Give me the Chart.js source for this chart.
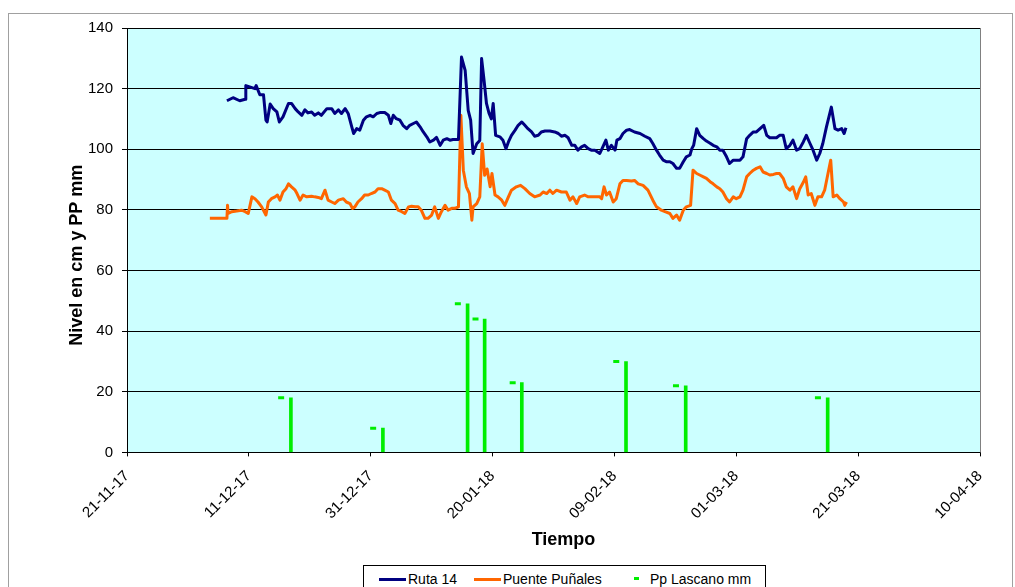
<!DOCTYPE html>
<html>
<head>
<meta charset="utf-8">
<script src="https://cdn.jsdelivr.net/npm/chart.js@4.4.1/dist/chart.umd.min.js"></script>
<style>
  body { margin: 0; background: #fff; }
  #wrap { position: relative; width: 1015px; height: 587px; overflow: hidden; font-family: 'Liberation Sans', Arial, sans-serif; }
  #frame { position: absolute; left: 8px; top: 13px; width: 1003px; height: 600px; border: 1px solid #a0a0a0; }
  #chart { position: absolute; left: 0; top: 0; }
  #legend { position: absolute; left: 363px; top: 565px; width: 401px; height: 30px; border: 1px solid #000; background: #fff; }
  #legend .swatch { position: absolute; top: 12px; height: 3px; width: 27px; }
  #legend .label { position: absolute; top: 5px; font-size: 14px; line-height: 16px; color: #000; white-space: nowrap; }
</style>
</head>
<body>
<div id="wrap">
  <div id="frame"></div>
  <canvas id="chart" width="1015" height="587"></canvas>
  <div id="legend">
    <div class="swatch" style="left:15px;background:#000080"></div>
    <div class="label" style="left:44px">Ruta 14</div>
    <div class="swatch" style="left:110px;background:#ff6600"></div>
    <div class="label" style="left:139px">Puente Puñales</div>
    <div class="swatch" style="left:270px;width:5px;top:11px;background:#00ee00"></div>
    <div class="label" style="left:286px">Pp Lascano mm</div>
  </div>
</div>
<script>
// days counted from 21-11-2017
const startDate = Date.UTC(2017, 10, 21);

const rutaDay = [16.4,17.4,18.5,19.4,19.5,21.0,21.2,21.8,22.4,22.8,23.0,23.5,24.0,24.6,25.0,25.6,26.5,27.0,27.6,28.1,
  28.7,29.2,29.7,30.3,30.8,31.4,31.9,32.8,33.6,34.1,34.7,35.2,35.8,36.3,36.9,37.2,37.7,38.2,38.8,39.3,
  39.9,40.4,41.0,41.5,42.3,42.9,43.3,43.7,44.2,44.8,45.3,45.9,46.4,47.0,47.5,48.1,48.6,49.2,49.7,50.3,
  50.8,51.4,51.9,52.5,53.0,53.5,54.4,54.9,55.5,56.0,56.4,56.8,57.4,57.9,58.2,58.6,59.0,59.4,59.8,60.1,
  60.5,61.2,61.7,62.2,62.6,63.1,63.7,64.2,64.8,65.3,65.8,66.4,66.9,67.5,68.0,68.6,69.4,70.2,70.8,71.3,
  71.9,72.4,73.0,73.5,74.0,74.6,75.1,75.7,76.2,76.8,77.6,78.1,78.6,79.0,79.5,80.1,80.4,80.9,81.4,82.0,
  82.5,83.3,84.2,85.0,85.8,86.3,86.9,87.4,88.0,88.5,89.1,89.6,90.2,90.7,91.3,91.8,92.4,92.7,93.0,93.5,
  94.0,94.6,95.1,95.7,96.2,96.8,97.3,97.8,98.4,98.9,99.5,100.0,100.6,101.1,101.7,102.2,102.8,103.3,103.9,104.5,
  105.0,105.5,106.1,106.6,107.1,107.7,108.2,108.8,109.3,109.9,110.4,111.0,111.5,112.1,112.6,113.2,113.7,114.2,114.8,115.6,
  116.2,116.7,117.3,117.7,118.0];
const rutaLevel = [116,117,116,116.5,121,120,121,118,118,109.6,109,114.9,113.4,112.3,109,110.7,115.1,115.1,113.4,112.3,
  111.2,113,112,112.3,111.2,112,111.2,113.4,113.4,111.8,113,111.8,113.4,111.8,107.3,105.2,106.8,106.3,109.6,110.7,
  111.2,110.7,111.8,112.1,112.1,111.2,108.5,111.2,110.1,109.6,107.9,106.8,107.9,108.5,109,107.4,105.8,104.1,102.4,103,
  103.9,101.3,103,103.5,103,103.2,103.2,130.4,126,112.8,109.6,98.6,101.8,102.9,129.9,122.8,115.1,112,110,115.1,
  104.6,104.1,103,100.2,102.4,104.6,106.3,107.9,109,107.9,106.8,105.7,104.3,104.6,105.7,106,106,105.7,105.2,104.3,
  104.6,103.8,101.3,101.3,99.7,100.8,101.3,100.2,99.7,99.7,98.6,100.8,103,99.7,101.3,99.7,103,103.5,105.2,106.3,
  106.5,105.7,105.2,104.3,103.5,101.9,99.7,98.1,96.4,95.9,95.9,95.3,93.7,93.7,95.9,97.5,98.1,100.2,101.3,106.8,
  104.6,103.5,102.7,102,101.3,100.8,99.7,99.7,97.5,95.3,96.4,96.4,96.4,97.5,103.5,104.6,105.7,105.7,106.8,107.9,
  104.6,103.8,103.8,103.8,104.6,104.6,100.2,101.3,103,99.7,100.2,102.4,104.6,101.9,99.7,96.4,98.6,101.9,107.4,113.9,
  106.8,106.3,106.8,105.2,107.1];

const puenteDay = [13.6,16.4,16.5,16.6,17.2,18.0,18.8,19.4,19.9,20.5,21.0,21.5,22.1,22.8,23.2,23.7,24.3,24.7,25.1,25.6,
  26.1,26.5,27.0,27.6,27.9,28.4,28.9,29.5,30.3,30.8,31.4,31.9,32.5,33.0,33.6,34.1,34.7,35.5,36.0,36.6,
  37.0,37.4,37.9,38.5,39.0,39.6,40.1,40.7,41.2,41.8,42.3,42.9,43.4,44.0,44.5,45.1,45.6,46.2,46.7,47.3,
  47.8,48.3,48.9,49.4,50.0,50.5,51.1,51.6,52.2,52.7,53.3,53.8,54.4,54.8,55.2,55.7,56.2,56.6,56.8,57.4,
  57.9,58.3,58.7,59.1,59.6,59.9,60.4,60.9,61.5,62.0,62.6,63.1,63.9,64.6,65.3,66.1,66.9,67.8,68.3,68.9,
  69.4,69.9,70.5,71.3,72.1,72.7,73.2,73.8,74.3,75.1,75.7,76.5,77.6,77.9,78.3,78.7,79.2,79.8,80.3,80.9,
  81.4,82.0,82.8,83.3,83.9,84.7,85.5,86.3,86.9,87.7,88.3,89.1,89.6,90.2,90.7,91.3,91.8,92.5,92.9,93.5,
  94.0,94.6,95.1,95.7,96.2,96.8,97.3,97.8,98.4,98.9,99.5,100.0,100.6,101.1,101.7,102.2,102.8,103.3,103.9,104.4,
  105.0,105.5,106.1,106.6,107.1,107.7,108.2,108.8,109.3,109.9,110.4,111.0,111.4,111.8,112.3,112.9,113.4,114.0,114.5,115.1,
  115.5,115.9,116.5,117.0,117.6,117.8,118.1];
const puenteLevel = [77.2,77.2,81.5,78.8,79.4,79.6,79.9,79.4,78.8,84.3,83.7,82.6,81,78.3,82.6,83.7,84.3,84.9,83.2,85.9,
  87,88.6,87.6,86.5,85.4,83.2,84.9,84.3,84.5,84.3,84.1,83.7,86.5,83.2,82.6,82.1,83.2,83.7,82.6,82.1,
  80.5,81,82.6,83.7,84.9,84.9,85.4,85.9,87,87,86.5,85.9,83.2,82.1,79.9,79.4,78.8,81,81.2,81,
  81,79.9,77.2,77.2,78.3,81,77.2,79.4,81.5,79.9,80.5,80.5,81,111.2,93.1,87.6,85.4,76.6,81,82.1,
  84.3,101.8,91.4,93.5,87.6,92,84.9,84.3,83.2,81.5,84.3,86.5,87.6,88.1,87,85.4,84.3,84.9,85.9,85.4,
  86.5,85.4,86.5,85.9,85.9,83.2,84.3,82.1,84.3,84.9,84.3,84.3,84.3,83.7,87.6,84.9,85.9,82.6,83.7,88.6,
  89.7,89.7,89.5,89.7,88.6,88.1,86.5,83.2,81,79.9,79.4,78.8,77.2,78.3,76.6,79.9,81,81.5,93.1,92,
  91.5,90.9,90.4,89.3,88.6,87.6,87,85.9,83.7,82.6,84.3,83.7,84.3,86.5,90.9,92,93.1,93.7,94.2,92.5,
  92,91.5,91.7,92,92,90.4,87.6,86.5,87.6,83.7,86.9,89.1,90.9,84.9,85.4,81.5,84.3,84.3,86.5,92.5,
  96.4,84.3,84.9,83.7,82.6,81.5,82.6];

const ppDay = [26.9, 42.0, 55.9, 58.7, 64.8, 81.9, 91.7, 115.0];
const ppMarkerDay = [25.3, 40.4, 54.3, 57.2, 63.3, 80.3, 90.1, 113.4];
const ppMm = [18, 8, 49, 44, 23, 30, 22, 18];

const xTicks = [0, 20, 40, 60, 80, 100, 120, 140];
const yTicks = [0, 20, 40, 60, 80, 100, 120, 140];

function toPoints(xs, ys) {
  return xs.map((x, i) => ({ x: x, y: ys[i] }));
}

function fmtDate(day) {
  const d = new Date(startDate + day * 86400000);
  const dd = String(d.getUTCDate()).padStart(2, '0');
  const mm = String(d.getUTCMonth() + 1).padStart(2, '0');
  const yy = String(d.getUTCFullYear()).slice(2);
  return dd + '-' + mm + '-' + yy;
}

const plotBackground = {
  id: 'plotBackground',
  beforeDraw(chart) {
    const { ctx, chartArea: a } = chart;
    ctx.save();
    ctx.fillStyle = '#ccffff';
    ctx.fillRect(a.left, a.top, a.right - a.left, a.bottom - a.top);
    ctx.restore();
  },
  afterDraw(chart) {
    const { ctx, chartArea: a } = chart;
    ctx.save();
    ctx.strokeStyle = '#808080';
    ctx.lineWidth = 1;
    ctx.beginPath();
    ctx.moveTo(Math.round(a.right) + 0.5, a.top);
    ctx.lineTo(Math.round(a.right) + 0.5, a.bottom);
    ctx.stroke();
    ctx.restore();
  }
};

Chart.defaults.font.family = "'Liberation Sans', Arial, sans-serif";
Chart.defaults.color = '#000';

new Chart(document.getElementById('chart'), {
  type: 'bar',
  data: {
    datasets: [
      {
        type: 'line',
        label: 'Ruta 14',
        data: toPoints(rutaDay, rutaLevel),
        borderColor: '#000080',
        borderWidth: 3,
        borderJoinStyle: 'round',
        pointRadius: 0,
        tension: 0
      },
      {
        type: 'line',
        label: 'Puente Puñales',
        data: toPoints(puenteDay, puenteLevel),
        borderColor: '#ff6600',
        borderWidth: 3,
        borderJoinStyle: 'round',
        pointRadius: 0,
        tension: 0
      },
      {
        type: 'bar',
        label: 'Pp Lascano mm',
        data: toPoints(ppDay, ppMm),
        backgroundColor: '#00ee00',
        barThickness: 3
      },
      {
        type: 'scatter',
        label: 'Pp Lascano mm',
        data: toPoints(ppMarkerDay, ppMm),
        pointStyle: 'line',
        pointRadius: 3,
        borderWidth: 3,
        borderColor: '#00ee00',
        backgroundColor: '#00ee00',
        showLine: false
      }
    ]
  },
  options: {
    responsive: false,
    animation: false,
    layout: { padding: { left: 62, right: 35, top: 28, bottom: 32 } },
    plugins: {
      legend: { display: false },
      tooltip: { enabled: false }
    },
    scales: {
      x: {
        type: 'linear',
        min: 0,
        max: 140,
        offset: false,
        afterBuildTicks(scale) {
          scale.ticks = xTicks.map(v => ({ value: v }));
        },
        afterFit(scale) { scale.height = 102.6; },
        ticks: {
          minRotation: 45,
          maxRotation: 45,
          padding: 11,
          font: { size: 15 },
          callback: v => fmtDate(v)
        },
        grid: { offset: false, drawOnChartArea: false, tickLength: 4, color: '#000' },
        border: { color: '#000' },
        title: { display: true, text: '    Tiempo', font: { size: 18, weight: 'bold' } }
      },
      y: {
        min: 0,
        max: 140,
        afterBuildTicks(scale) {
          scale.ticks = yTicks.map(v => ({ value: v }));
        },
        afterFit(scale) { scale.width = 65; },
        ticks: { padding: 9, font: { size: 15 } },
        grid: { color: '#000', tickLength: 5 },
        border: { color: '#000' },
        title: { display: true, text: 'Nivel en cm y PP mm      ', font: { size: 18, weight: 'bold' } }
      }
    }
  },
  plugins: [plotBackground]
});
</script>
</body>
</html>
